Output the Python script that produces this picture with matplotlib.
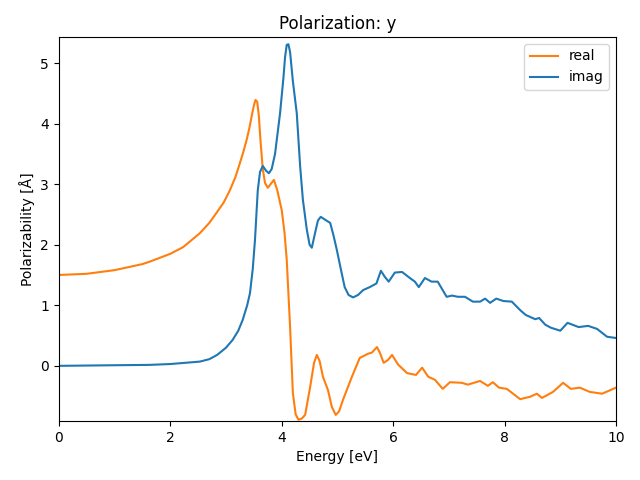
import matplotlib
matplotlib.use("Agg")
import matplotlib.pyplot as plt

# Energy grid and values
energy_real = [0.0, 0.5, 1.0, 1.5, 1.63, 2.0, 2.23, 2.53, 2.70, 2.84, 2.96, 3.07, 3.17,
               3.25, 3.31, 3.37, 3.42, 3.46, 3.50, 3.53, 3.56, 3.59, 3.62, 3.66, 3.70,
               3.75, 3.80, 3.86, 3.92, 4.00, 4.05, 4.09, 4.15, 4.20, 4.25, 4.30, 4.36,
               4.42, 4.51, 4.58, 4.63, 4.68, 4.74, 4.83, 4.90, 4.97, 5.03, 5.10, 5.26,
               5.40, 5.55, 5.62, 5.71, 5.76, 5.83, 5.91, 5.98, 6.09, 6.25, 6.41, 6.52,
               6.63, 6.75, 6.89, 7.02, 7.23, 7.34, 7.56, 7.70, 7.79, 7.90, 8.04, 8.28,
               8.46, 8.58, 8.67, 8.87, 9.05, 9.19, 9.35, 9.53, 9.75, 10.0]
alpha_real = [1.50, 1.52, 1.58, 1.68, 1.72, 1.85, 1.96, 2.19, 2.36, 2.54, 2.70, 2.90, 3.12,
              3.35, 3.53, 3.73, 3.93, 4.12, 4.30, 4.39, 4.36, 4.12, 3.70, 3.25, 3.02,
              2.94, 3.00, 3.07, 2.90, 2.57, 2.20, 1.75, 0.64, -0.45, -0.80, -0.89, -0.87,
              -0.81, -0.35, 0.05, 0.18, 0.08, -0.18, -0.40, -0.68, -0.81, -0.75, -0.56, -0.18,
              0.13, 0.20, 0.22, 0.31, 0.22, 0.05, 0.10, 0.18, 0.02, -0.12, -0.15, -0.03,
              -0.18, -0.23, -0.38, -0.27, -0.28, -0.31, -0.25, -0.33, -0.27, -0.36, -0.38, -0.55,
              -0.51, -0.46, -0.53, -0.43, -0.28, -0.38, -0.36, -0.43, -0.46, -0.36]

energy_imag = [0.0, 1.0, 1.63, 2.0, 2.53, 2.7, 2.84, 3.0, 3.12, 3.22, 3.30, 3.38, 3.43,
               3.48, 3.52, 3.57, 3.61, 3.66, 3.72, 3.77, 3.82, 3.88, 3.97, 4.03, 4.06,
               4.09, 4.12, 4.15, 4.20, 4.27, 4.33, 4.38, 4.45, 4.50, 4.54, 4.60, 4.65,
               4.70, 4.80, 4.87, 4.93, 4.99, 5.06, 5.13, 5.20, 5.28, 5.37, 5.46, 5.58,
               5.70, 5.78, 5.85, 5.92, 6.03, 6.16, 6.30, 6.39, 6.46, 6.57, 6.69, 6.80,
               6.96, 7.06, 7.16, 7.29, 7.43, 7.56, 7.65, 7.74, 7.85, 7.98, 8.13, 8.28,
               8.38, 8.55, 8.62, 8.73, 8.83, 9.0, 9.13, 9.33, 9.5, 9.66, 9.84, 10.0]
alpha_imag = [0.0, 0.01, 0.016, 0.03, 0.07, 0.11, 0.18, 0.30, 0.43, 0.58, 0.76, 1.0, 1.2,
              1.6, 2.08, 2.9, 3.20, 3.30, 3.22, 3.18, 3.25, 3.50, 4.17, 4.75, 5.10,
              5.30, 5.31, 5.18, 4.70, 4.17, 3.30, 2.74, 2.25, 2.00, 1.95, 2.20, 2.40,
              2.46, 2.40, 2.36, 2.15, 1.91, 1.60, 1.30, 1.17, 1.13, 1.17, 1.25, 1.30,
              1.36, 1.57, 1.47, 1.39, 1.54, 1.55, 1.45, 1.39, 1.30, 1.45, 1.39, 1.39,
              1.14, 1.16, 1.14, 1.14, 1.06, 1.06, 1.11, 1.04, 1.11, 1.07, 1.06, 0.92,
              0.84, 0.77, 0.79, 0.68, 0.63, 0.58, 0.71, 0.64, 0.66, 0.61, 0.48, 0.46]

fig, ax = plt.subplots(figsize=(6.4, 4.8), dpi=100)
fig.subplots_adjust(left=0.092, right=0.9625, top=0.923, bottom=0.123)

ax.plot(energy_real, alpha_real, color="C1", label="real")
ax.plot(energy_imag, alpha_imag, color="C0", label="imag")

ax.set_xlim(0, 10)
ax.set_ylim(-0.91, 5.43)
ax.set_xlabel("Energy [eV]")
ax.set_ylabel("Polarizability [Å]")
ax.set_title("Polarization: y")
ax.legend(loc="upper right")

plt.savefig("out.png", dpi=100)
plt.close()
